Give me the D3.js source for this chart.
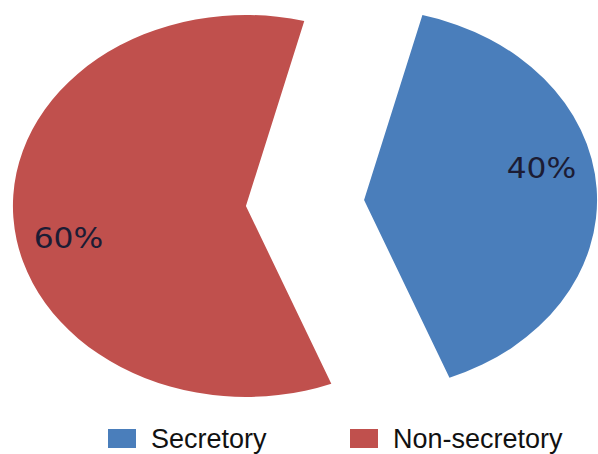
<!DOCTYPE html>
<html>
<head>
<meta charset="utf-8">
<script src="https://cdn.jsdelivr.net/npm/d3@7"></script>
<style>
  body { margin: 0; background: #fff; }
  svg { display: block; }
</style>
</head>
<body>
<div id="chart"></div>
<script>
// data
var categories = ["Secretory", "Non-secretory"];
var values = [40, 60];
var labels = ["40%", "60%"];
var colors = ["#4a7ebb", "#c0504d"];

var width = 598, height = 454;

// pie is drawn as an ellipse (stretched horizontally)
var cx = 305, cy = 203;
var ry = 191, rx = 233;
var k = rx / ry;
var explode = 0.254; // fraction of radius
var deg = Math.PI / 180;
var start = 14.5 * deg;

var svg = d3.select("#chart").append("svg")
  .attr("width", width)
  .attr("height", height);

var pie = d3.pie()
  .sort(null)
  .startAngle(start)
  .endAngle(start + 2 * Math.PI);

var arc = d3.arc().innerRadius(0).outerRadius(ry);

var arcs = pie(values);

var g = svg.append("g")
  .attr("transform", "translate(" + cx + "," + cy + ") scale(" + k + ",1)");

function offset(d) {
  var mid = (d.startAngle + d.endAngle) / 2;
  return [explode * ry * Math.sin(mid), -explode * ry * Math.cos(mid)];
}

g.selectAll("path")
  .data(arcs)
  .enter().append("path")
  .attr("d", arc)
  .attr("fill", function(d, i) { return colors[i]; })
  .attr("transform", function(d) { return "translate(" + offset(d) + ")"; });

// labels
svg.selectAll(".lbl")
  .data(arcs)
  .enter().append("text")
  .attr("class", "lbl")
  .attr("transform", function(d) {
    var o = offset(d);
    var a = (d.startAngle + d.endAngle) / 2 - 9 * deg;
    var r = 0.78 * ry;
    var x = cx + k * (r * Math.sin(a) + o[0]);
    var y = cy + (-r * Math.cos(a) + o[1]);
    return "translate(" + x + "," + y + ") scale(1.12,1)";
  })
  .attr("text-anchor", "middle")
  .attr("dy", "0.36em")
  .style("font-family", "DejaVu Sans, sans-serif")
  .style("font-size", "28px")
  .style("fill", "#1c1c34")
  .text(function(d, i) { return labels[i]; });

// legend
var legendX = [108, 350];
var legend = svg.selectAll(".legend")
  .data(categories)
  .enter().append("g")
  .attr("class", "legend")
  .attr("transform", function(d, i) { return "translate(" + legendX[i] + ",429)"; });

legend.append("rect")
  .attr("width", 28)
  .attr("height", 19)
  .attr("fill", function(d, i) { return colors[i]; });

legend.append("text")
  .attr("x", 43)
  .attr("y", 19)
  .style("font-family", "Liberation Sans, Arial, sans-serif")
  .style("font-size", "27px")
  .style("fill", "#111")
  .text(function(d) { return d; });
</script>
</body>
</html>
